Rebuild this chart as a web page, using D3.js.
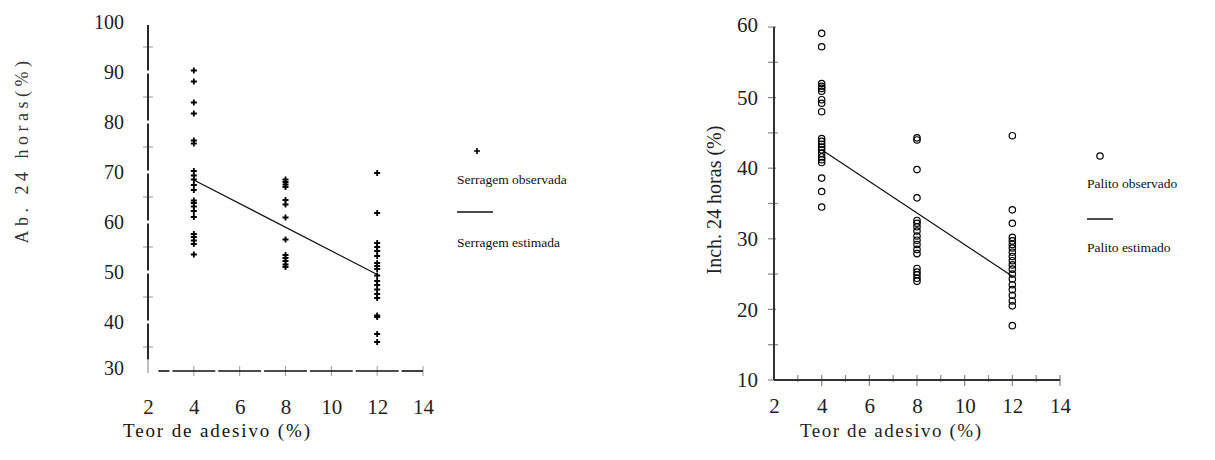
<!DOCTYPE html>
<html>
<head>
<meta charset="utf-8">
<script src="https://cdn.jsdelivr.net/npm/d3@7"></script>
<style>
  body { margin: 0; background: #fff; }
  svg { display: block; font-family: "Liberation Serif", "DejaVu Serif", serif; }
</style>
</head>
<body>
<div id="chart"></div>
<script>
// x categories (adhesive content, %)
const teores = [4, 8, 12];
const xTicks = [2, 4, 6, 8, 10, 12, 14];

// left panel: Serragem (sawdust), Ab. 24 horas (%)
const serragem4 = [90.3, 88.1, 83.9, 81.7, 76.3, 75.7, 70.2, 69.3, 68.5, 67.4, 66.4, 64.3, 63.8, 63.1, 62.2, 61.0, 57.6, 57.0, 56.3, 55.6, 53.5];
const serragem8 = [68.5, 68.0, 67.5, 67.0, 64.4, 63.5, 60.9, 56.5, 53.4, 52.8, 52.2, 51.5, 51.0];
const serragem12 = [69.8, 61.8, 55.8, 55.0, 54.2, 53.2, 51.8, 51.2, 50.6, 49.3, 48.2, 47.4, 46.5, 45.6, 44.8, 41.3, 41.0, 37.6, 36.0];
const serragemEstimada = [68.4, 49.5];   // at x = 4 and x = 12
const yTicksL = [30, 40, 50, 60, 70, 80, 90, 100];

// right panel: Palito (toothpick), Inch. 24 horas (%)
const palito4 = [59.1, 57.2, 52.0, 51.6, 51.3, 50.9, 49.7, 49.2, 48.0, 44.2, 43.8, 43.4, 43.0, 42.6, 42.1, 41.6, 41.2, 40.8, 38.6, 36.7, 34.5];
const palito8 = [44.3, 44.0, 39.8, 35.8, 32.6, 32.2, 31.7, 31.1, 30.4, 29.8, 29.2, 28.5, 27.9, 25.8, 25.3, 24.9, 24.4, 24.0];
const palito12 = [44.6, 34.1, 32.2, 30.2, 29.7, 29.2, 28.7, 28.1, 27.5, 26.9, 26.3, 25.7, 25.0, 24.3, 23.5, 22.8, 22.0, 21.2, 20.5, 17.7];
const palitoEstimado = [42.6, 24.7];
const yTicksR = [10, 20, 30, 40, 50, 60];

const svg = d3.select("#chart").append("svg")
  .attr("width", 1215).attr("height", 460);

function pts(cols) {
  const out = [];
  cols.forEach((vals, i) => vals.forEach(v => out.push({x: teores[i], y: v})));
  return out;
}

// ---------- left panel ----------
const xL = d3.scaleLinear().domain([2, 14]).range([148, 423]);
const yL = d3.scaleLinear().domain([30, 100]).range([372, 22]);
const gL = svg.append("g");

// ticks first, axis lines on top
gL.selectAll(".ytk").data(d3.range(35, 100, 10)).join("line")
  .attr("x1", xL(2) - 5).attr("x2", xL(2) + 5)
  .attr("y1", d => yL(d)).attr("y2", d => yL(d))
  .attr("stroke", "#999").attr("stroke-width", 1);
gL.selectAll(".xtk").data(xTicks.slice(1)).join("line")
  .attr("x1", d => xL(d)).attr("x2", d => xL(d))
  .attr("y1", yL(30) - 6).attr("y2", yL(30) + 4)
  .attr("stroke", "#999").attr("stroke-width", 1);
gL.append("line").attr("x1", xL(2)).attr("x2", xL(2))
  .attr("y1", yL(30) - 12).attr("y2", yL(30) + 1)
  .attr("stroke", "#aaa").attr("stroke-width", 1.5);

// y axis line, broken at each labelled value like the scanned original
const ySegs = d3.pairs([99.4, 90, 80, 70, 60, 50, 40, 32.5]);
gL.selectAll(".yseg").data(ySegs).join("line")
  .attr("x1", xL(2)).attr("x2", xL(2))
  .attr("y1", d => yL(d[0]) + (d[0] < 99 ? 1.5 : 0))
  .attr("y2", d => yL(d[1]) - (d[1] > 33 ? 1.5 : 0))
  .attr("stroke", "#111").attr("stroke-width", 1.8);

// x axis, broken at odd values
const xSegs = d3.pairs([2.45, 3, 5, 7, 9, 11, 13, 14]);
gL.selectAll(".xseg").data(xSegs).join("line")
  .attr("y1", yL(30) - 1).attr("y2", yL(30) - 1)
  .attr("x1", d => xL(d[0]) + (d[0] > 2.5 ? 1.5 : 0))
  .attr("x2", d => xL(d[1]) - (d[1] < 14 ? 1.5 : 0))
  .attr("stroke", "#111").attr("stroke-width", 1.6);

const axL = gL.append("g").attr("transform", `translate(${xL(2) - 20},0)`)
  .call(d3.axisLeft(yL).tickValues(yTicksL).tickSize(0).tickPadding(4));
axL.select(".domain").remove();
axL.selectAll("text").attr("font-size", 20).attr("font-family", "Liberation Serif").attr("fill", "#222")
  .attr("dy", d => d === 30 ? "0.1em" : "0.32em");

const axLx = gL.append("g").attr("transform", `translate(0,${yL(30) + 27})`)
  .call(d3.axisBottom(xL).tickValues(xTicks).tickSize(0).tickPadding(0));
axLx.select(".domain").remove();
axLx.selectAll("text").attr("font-size", 21).attr("font-family", "Liberation Serif").attr("fill", "#222");

gL.append("text").attr("x", 123).attr("y", 437)
  .attr("font-size", 19).attr("fill", "#111").attr("textLength", 187)
  .text("Teor de adesivo (%)");

gL.append("text")
  .attr("transform", `translate(28,150) rotate(-90)`)
  .attr("text-anchor", "middle").attr("font-size", 18).attr("fill", "#333")
  .attr("letter-spacing", 4.5)
  .text("Ab. 24 horas(%)");

// regression line
gL.append("path")
  .datum(teores.filter((d, i) => i !== 1).map((x, i) => ({x, y: serragemEstimada[i]})))
  .attr("d", d3.line().x(d => xL(d.x)).y(d => yL(d.y)))
  .attr("stroke", "#111").attr("stroke-width", 1.2).attr("fill", "none");

// observed points as "+"
const plus = "M-3,0H3M0,-3V3";
gL.selectAll(".obs").data(pts([serragem4, serragem8, serragem12])).join("path")
  .attr("transform", d => `translate(${xL(d.x)},${yL(d.y)})`)
  .attr("d", plus).attr("stroke", "#000").attr("stroke-width", 1.8).attr("fill", "none");

// legend
gL.append("path").attr("transform", "translate(477,151)").attr("d", plus)
  .attr("stroke", "#000").attr("stroke-width", 1.6);
gL.append("text").attr("x", 457).attr("y", 184).attr("font-size", 13.5).attr("fill", "#111").text("Serragem observada");
gL.append("line").attr("x1", 457).attr("x2", 493).attr("y1", 212).attr("y2", 212).attr("stroke", "#111").attr("stroke-width", 1.5);
gL.append("text").attr("x", 457).attr("y", 247).attr("font-size", 13.5).attr("fill", "#111").text("Serragem estimada");

// ---------- right panel ----------
const xR = d3.scaleLinear().domain([2, 14]).range([774, 1060]);
const yR = d3.scaleLinear().domain([10, 60]).range([380, 27]);
const gR = svg.append("g");

gR.selectAll(".ytk").data(d3.range(10, 61, 5)).join("line")
  .attr("x1", xR(2) - 6)
  .attr("x2", d => d % 10 === 0 ? xR(2) + 2 : xR(2) + 4)
  .attr("y1", d => yR(d)).attr("y2", d => yR(d))
  .attr("stroke", "#888").attr("stroke-width", 1.2);
gR.selectAll(".xtk").data(d3.range(3, 15, 1)).join("line")
  .attr("x1", d => xR(d)).attr("x2", d => xR(d))
  .attr("y1", yR(10) - 5).attr("y2", d => d % 2 === 0 ? yR(10) + 6 : yR(10) + 2)
  .attr("stroke", "#888").attr("stroke-width", 1.2);

gR.append("line").attr("x1", xR(2)).attr("x2", xR(2)).attr("y1", yR(60)).attr("y2", yR(10))
  .attr("stroke", "#333").attr("stroke-width", 2);
gR.append("line").attr("x1", xR(2)).attr("x2", xR(14)).attr("y1", yR(10)).attr("y2", yR(10))
  .attr("stroke", "#333").attr("stroke-width", 2);

const axR = gR.append("g").attr("transform", `translate(${xR(2) - 16},0)`)
  .call(d3.axisLeft(yR).tickValues(yTicksR).tickSize(0).tickPadding(0));
axR.select(".domain").remove();
axR.selectAll("text").attr("font-size", 21).attr("font-family", "Liberation Serif").attr("fill", "#222")
  .attr("dy", d => d === 60 ? "0.2em" : "0.32em");

const axRx = gR.append("g").attr("transform", `translate(0,${yR(10) + 18})`)
  .call(d3.axisBottom(xR).tickValues(xTicks).tickSize(0).tickPadding(0));
axRx.select(".domain").remove();
axRx.selectAll("text").attr("font-size", 21).attr("font-family", "Liberation Serif").attr("fill", "#222");

gR.append("text").attr("x", 800).attr("y", 437)
  .attr("font-size", 19).attr("fill", "#222").attr("textLength", 181)
  .text("Teor de adesivo (%)");

gR.append("text")
  .attr("transform", `translate(721,200) rotate(-90)`)
  .attr("text-anchor", "middle").attr("font-size", 20).attr("fill", "#222")
  .text("Inch. 24 horas (%)");

gR.append("path")
  .datum(teores.filter((d, i) => i !== 1).map((x, i) => ({x, y: palitoEstimado[i]})))
  .attr("d", d3.line().x(d => xR(d.x)).y(d => yR(d.y)))
  .attr("stroke", "#111").attr("stroke-width", 1.2).attr("fill", "none");

gR.selectAll(".obs").data(pts([palito4, palito8, palito12])).join("circle")
  .attr("cx", d => xR(d.x)).attr("cy", d => yR(d.y)).attr("r", 3.2)
  .attr("fill", "none").attr("stroke", "#000").attr("stroke-width", 1.2);

gR.append("circle").attr("cx", 1100).attr("cy", 156).attr("r", 3.2)
  .attr("fill", "none").attr("stroke", "#000").attr("stroke-width", 1.2);
gR.append("text").attr("x", 1087).attr("y", 188).attr("font-size", 13.5).attr("fill", "#111").text("Palito observado");
gR.append("line").attr("x1", 1087).attr("x2", 1113).attr("y1", 219).attr("y2", 219).attr("stroke", "#111").attr("stroke-width", 1.5);
gR.append("text").attr("x", 1087).attr("y", 252).attr("font-size", 13.5).attr("fill", "#111").text("Palito estimado");
</script>
</body>
</html>
